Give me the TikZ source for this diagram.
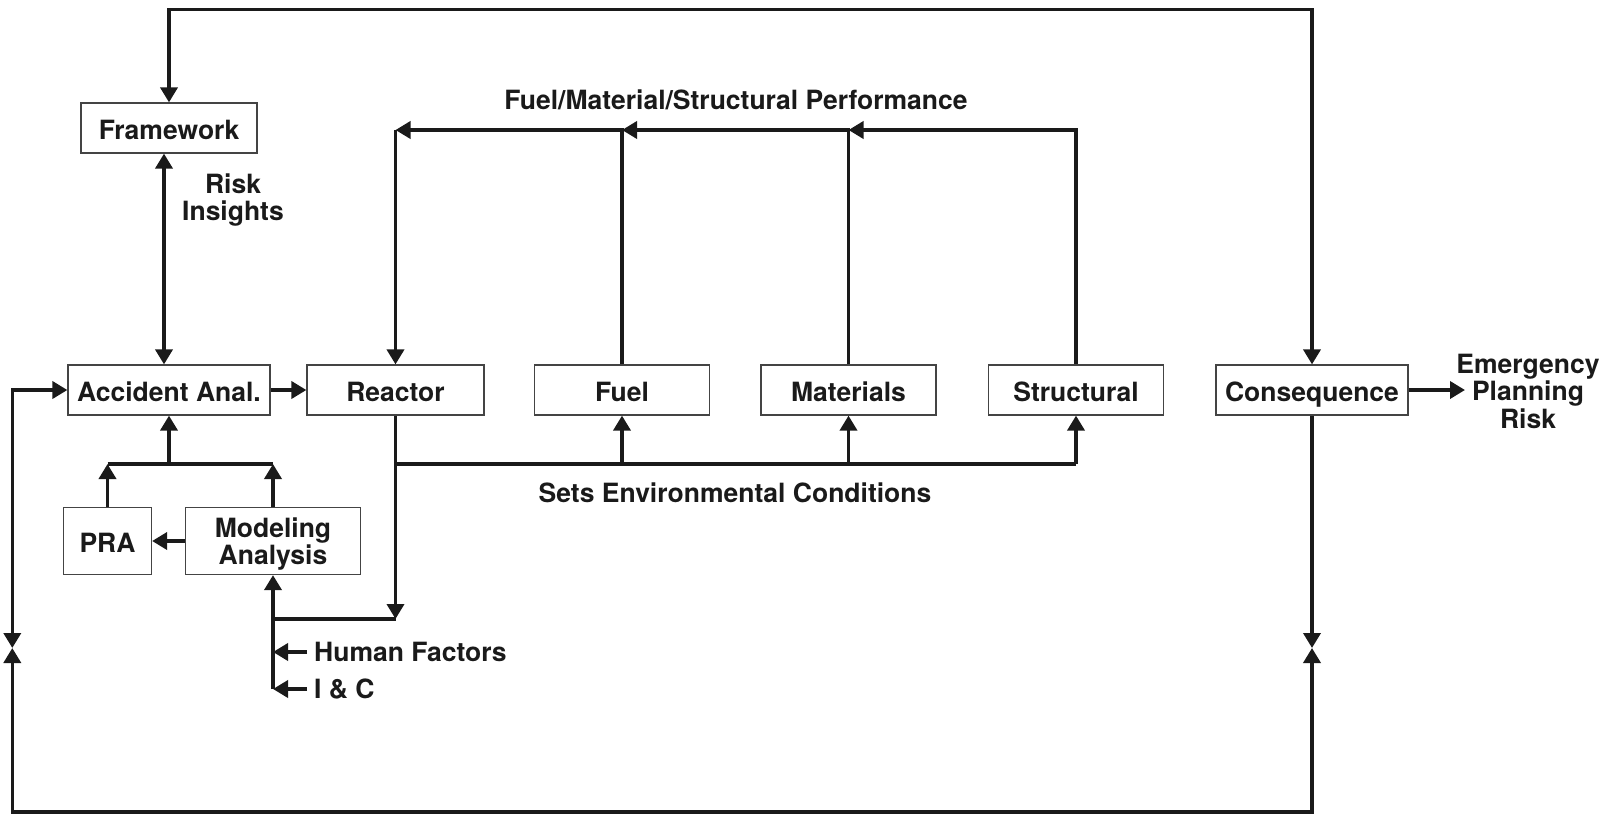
\documentclass[tikz,border=0pt]{standalone}
\usepackage{fontspec}
\setmainfont{TeX Gyre Heros}
\usetikzlibrary{arrows.meta}
\definecolor{ink}{HTML}{1A1A1A}
\definecolor{frame}{HTML}{444444}
\begin{document}
\begin{tikzpicture}[x=1pt,y=-1pt,
  txt/.style={font=\fontsize{26.5}{27.5}\selectfont\bfseries, text=ink},
  box/.style={txt, draw=frame, line width=1.2pt, minimum height=50pt, inner sep=0pt},
  sbox/.style={box, text height=23pt, text depth=0pt},
  conn/.style={draw=ink, line width=3.6pt},
  arr/.style={conn, -{Triangle[width=17pt,length=15pt]}},
  arrb/.style={conn, {Triangle[width=17pt,length=15pt]}-{Triangle[width=17pt,length=15pt]}},
  lbl/.style={txt, align=center, inner sep=0pt}]
\useasboundingbox (0,0) rectangle (1606,817);
% boxes
\node[sbox, minimum width=176pt] (fw) at (169,128) {Framework};
\node[sbox, minimum width=202pt] (acc) at (169,390) {Accident Anal.};
\node[sbox, minimum width=177pt] (rea) at (395.5,390) {Reactor};
\node[sbox, minimum width=175pt] (fuel) at (622,390) {Fuel};
\node[sbox, minimum width=175pt] (mat) at (848.5,390) {Materials};
\node[sbox, minimum width=175pt] (str) at (1076,390) {Structural};
\node[sbox, minimum width=192pt] (con) at (1312,390) {Consequence};
\node[sbox, minimum width=88pt, minimum height=67pt] (pra) at (107.5,541) {PRA};
\node[box, minimum width=175pt, minimum height=67pt, align=center, text depth=0pt] (mod) at (273,541) {Modeling\\Analysis};
% labels
\node[lbl] (ri) at (233,200) {Risk\\Insights};
\node[lbl] (perf) at (736,100) {Fuel/Material/Structural Performance};
\node[lbl] (env) at (735,493) {Sets Environmental Conditions};
\node[lbl, anchor=west] (hf) at (314,652) {Human Factors};
\node[lbl, anchor=west] (ic) at (314,689) {I \& C};
\node[lbl] (ep) at (1528,391) {Emergency\\Planning\\Risk};
% helper coordinates
\coordinate (ytop) at (0,9.3);
\coordinate (yperf) at (0,130);
\coordinate (yenv) at (0,464);
\coordinate (yrea) at (0,619);
\coordinate (yic) at (0,689);
\coordinate (ybot) at (0,812);
\coordinate (bl) at (12.3,648);
\coordinate (br) at (1312,648);
\coordinate (emg) at (1465,390);
% top loop
\draw[arrb] (fw.north) -- (fw.north|-ytop) -- (con.north|-ytop) -- (con.north);
\draw[arrb] ([xshift=-5pt]fw.south) -- ([xshift=-5pt]acc.north);
\draw[arr] (acc.east) -- (rea.west);
% performance feedback
\draw[arr] (str.north) -- (str.north|-yperf) -- (mat.north|-yperf);
\draw[arr] (mat.north) -- (mat.north|-yperf) -- (fuel.north|-yperf);
\draw[arr] (fuel.north) -- (fuel.north|-yperf) -- (rea.north|-yperf);
\draw[arr] (rea.north|-yperf) -- (rea.north);
% environmental conditions
\draw[arr] (rea.south) -- (rea.south|-yrea);
\draw[conn] (rea.south|-yenv) -- (str.south|-yenv);
\draw[arr] (fuel.south|-yenv) -- (fuel.south);
\draw[arr] (mat.south|-yenv) -- (mat.south);
\draw[arr] (str.south|-yenv) -- (str.south);
% reactor to modeling
\draw[conn] (rea.south|-yrea) -- (mod.south|-yrea);
\draw[arr] (mod.south|-yic) -- (mod.south);
\draw[arr] ([xshift=-7pt]hf.west) -- (mod.south|-hf.west);
\draw[arr] ([xshift=-7pt]ic.west) -- (mod.south|-ic.west);
% PRA / modeling to accident
\draw[arr] (mod.west) -- (pra.east);
\draw[arr] (pra.north) -- (pra.north|-yenv);
\draw[arr] (mod.north) -- (mod.north|-yenv);
\draw[conn] (pra.north|-yenv) -- (mod.north|-yenv);
\draw[arr] (acc.south|-yenv) -- (acc.south);
% bottom loop
\draw[arrb] (acc.west) -| (bl);
\draw[arrb] (bl) -- (bl|-ybot) -- (br|-ybot) -- (br);
\draw[arr] (con.south) -- (br);
\draw[arr] (con.east) -- (emg);
\end{tikzpicture}
\end{document}
